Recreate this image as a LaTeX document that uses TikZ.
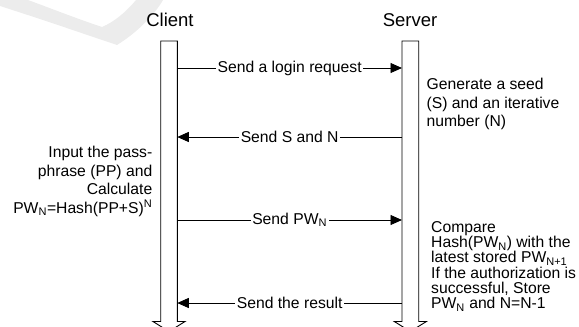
\documentclass[tikz,border=0pt]{standalone}
\usepackage{fontspec}
\setmainfont{Liberation Sans}
\usepackage{tikz}
\usetikzlibrary{arrows.meta, positioning, calc}

\definecolor{MarkGray}{RGB}{236,236,236}
\tikzset{
  lifeline/.style={draw=black, line width=0.9pt, fill=white},
  msg/.style={line width=0.9pt, -{Triangle[length=11.5pt, width=10pt]}},
  msglabel/.style={fill=white, inner sep=1.5pt, font=\fontsize{15.7}{18.5}\selectfont},
  notetext/.style={inner sep=0pt, font=\fontsize{15.7}{18.5}\selectfont},
  actor/.style={inner sep=0pt, font=\fontsize{18.5}{22}\selectfont}
}

\begin{document}
\begin{tikzpicture}[x=1pt, y=-1pt]
    \useasboundingbox (0,0) rectangle (579,327);

    % faint swoosh in the corner
    \fill[MarkGray] (0,0) -- (0,6) .. controls (50,22) and (90,36) .. (117,45)
        .. controls (138,32) and (155,14) .. (163,0) -- (136,0)
        .. controls (126,12) and (114,22) .. (102,27)
        .. controls (75,18) and (50,8) .. (28,0) -- cycle;

    % actors
    \node[actor, anchor=base] (client) at (170,26.5) {Client};
    \node[actor, anchor=base] (server) at (410,26.5) {Server};

    % lifelines as long down arrows
    \foreach \xl/\xr in {160.7/177.3, 402/418.7} {
        \draw[lifeline] (\xl,41) -- (\xr,41) -- (\xr,321.5) -- (\xr+7.7,321.5)
            -- ({(\xl+\xr)/2},331.5) -- (\xl-7.7,321.5) -- (\xl,321.5) -- cycle;
    }

    % message ends on both lifelines
    \foreach \n/\y in {1/68, 2/137, 3/220, 4/303} {
        \coordinate (c\n) at (177.3,\y);
        \coordinate (s\n) at (402,\y);
    }

    \draw[msg] (c1) -- node[msglabel] {Send a login request} (s1);
    \draw[msg] (s2) -- node[msglabel] {Send S and N} (c2);
    \draw[msg] (c3) -- node[msglabel] {Send PW\textsubscript{N}} (s3);
    \draw[msg] (s4) -- node[msglabel] {Send the result} (c4);

    % notes next to the lifelines
    \node[notetext, anchor=north east, align=right] (passphrase) at (152.5,146)
        {Input the pass-\\phrase (PP) and\\Calculate\\PW\textsubscript{N}=Hash(PP+S)\textsuperscript{N}};
    \node[notetext, anchor=north west, align=left] (seed) at (426.5,78.3)
        {Generate a seed\\(S) and an iterative\\number (N)};
    \node[notetext, anchor=north west, align=left,
          font=\fontsize{15.7}{15.3}\selectfont] (verify) at (431,221)
        {Compare\\Hash(PW\textsubscript{N}) with the\\latest stored PW\textsubscript{N+1}\\If the authorization is\\successful, Store\\PW\textsubscript{N} and N=N-1};
\end{tikzpicture}
\end{document}
